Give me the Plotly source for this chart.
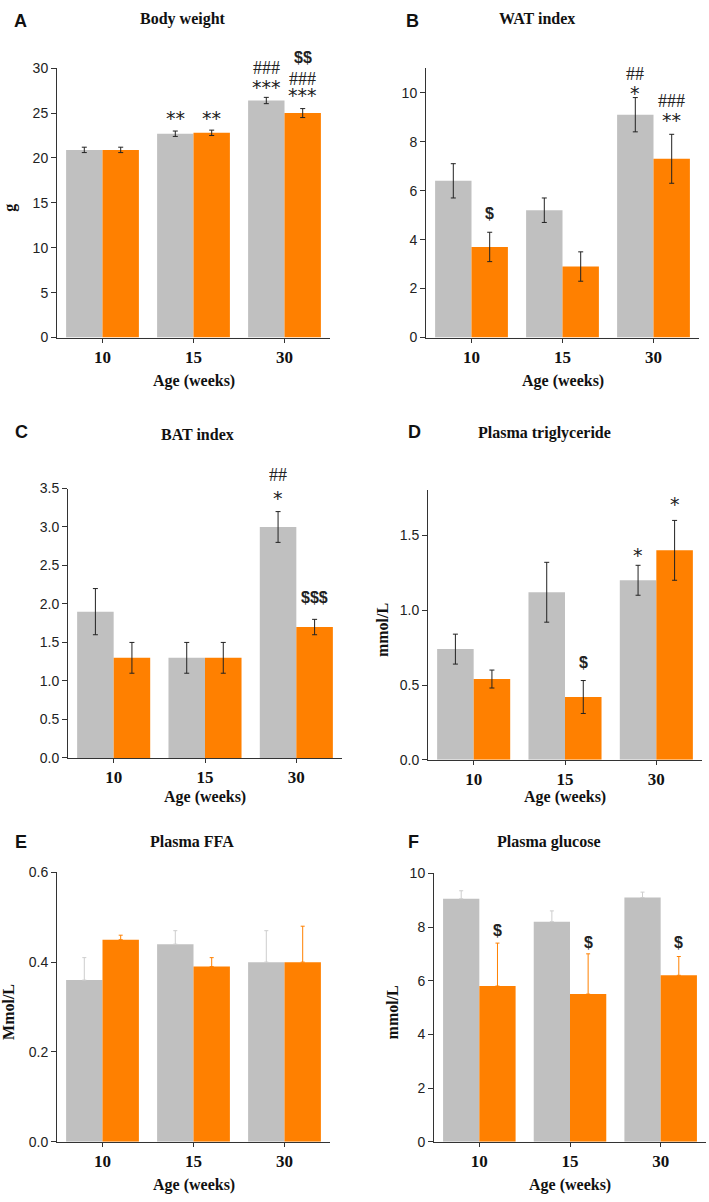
import plotly.graph_objects as go

W, H = 709, 1202
ages = ["10", "15", "30"]

# Panel A: Body weight (g)
bw_ctrl = [20.9, 22.7, 26.4]
bw_ctrl_err = [0.3, 0.3, 0.35]
bw_trt = [20.9, 22.8, 25.0]
bw_trt_err = [0.3, 0.3, 0.5]
# Panel B: WAT index
wat_ctrl = [6.4, 5.2, 9.1]
wat_ctrl_err = [0.7, 0.5, 0.7]
wat_trt = [3.7, 2.9, 7.3]
wat_trt_err = [0.6, 0.6, 1.0]
# Panel C: BAT index
bat_ctrl = [1.9, 1.3, 3.0]
bat_ctrl_err = [0.3, 0.2, 0.2]
bat_trt = [1.3, 1.3, 1.7]
bat_trt_err = [0.2, 0.2, 0.1]
# Panel D: Plasma triglyceride
tg_ctrl = [0.74, 1.12, 1.2]
tg_ctrl_err = [0.1, 0.2, 0.1]
tg_trt = [0.54, 0.42, 1.4]
tg_trt_err = [0.06, 0.11, 0.2]
# Panel E: Plasma FFA
ffa_ctrl = [0.36, 0.44, 0.40]
ffa_ctrl_err = [0.05, 0.03, 0.07]
ffa_trt = [0.45, 0.39, 0.40]
ffa_trt_err = [0.01, 0.02, 0.08]
# Panel F: Plasma glucose
glu_ctrl = [9.05, 8.2, 9.1]
glu_ctrl_err = [0.3, 0.4, 0.2]
glu_trt = [5.8, 5.5, 6.2]
glu_trt_err = [1.6, 1.5, 0.7]

# significance marks: (age index, group 0=ctrl 1=trt, y value, text, style)
marks_A = [(1, 0, 24.8, "**", "star"), (1, 1, 24.8, "**", "star"),
           (2, 0, 28.2, "***", "star"), (2, 0, 30.0, "###", "hash"),
           (2, 1, 27.3, "***", "star"), (2, 1, 28.8, "###", "hash"),
           (2, 1, 31.2, "$$", "dollar")]
marks_B = [(0, 1, 5.06, "$", "dollar"),
           (2, 0, 10.1, "*", "star"), (2, 0, 10.75, "##", "hash"),
           (2, 1, 9.0, "**", "star"), (2, 1, 9.65, "###", "hash")]
marks_C = [(2, 0, 3.42, "*", "star"), (2, 0, 3.68, "##", "hash"),
           (2, 1, 2.09, "$$$", "dollar")]
marks_D = [(1, 1, 0.65, "$", "dollar"), (2, 0, 1.39, "*", "star"),
           (2, 1, 1.73, "*", "star")]
marks_E = []
marks_F = [(0, 1, 7.87, "$", "dollar"), (1, 1, 7.43, "$", "dollar"),
           (2, 1, 7.43, "$", "dollar")]

GRAY = "#C0C0C0"
ORANGE = "#FF8000"
SERIF = "Liberation Serif"
SANS = "Liberation Sans"

# layout boxes in page pixels: (x0, x1, ytop, ybottom)
panels = [
    dict(letter="A", title="Body weight", ylab="g", ctrl=bw_ctrl, ce=bw_ctrl_err, trt=bw_trt, te=bw_trt_err,
         yr=[0, 30], dt=5, fmt="", box=(57, 330, 61, 334), marks=marks_A, up=False,
         lx=12, ly=13, tx=183, ty=11, ylx=10, agey=378),
    dict(letter="B", title="WAT index", ylab="", ctrl=wat_ctrl, ce=wat_ctrl_err, trt=wat_trt, te=wat_trt_err,
         yr=[0, 11], dt=2, fmt="", box=(426, 699, 61, 334), marks=marks_B, up=False,
         lx=404, ly=13, tx=537, ty=11, ylx=None, agey=378),
    dict(letter="C", title="BAT index", ylab="", ctrl=bat_ctrl, ce=bat_ctrl_err, trt=bat_trt, te=bat_trt_err,
         yr=[0, 3.5], dt=0.5, fmt=".1f", box=(68, 342, 487, 760), marks=marks_C, up=False,
         lx=13, ly=430, tx=197, ty=432, ylx=None, agey=800),
    dict(letter="D", title="Plasma triglyceride", ylab="mmol/L", ctrl=tg_ctrl, ce=tg_ctrl_err, trt=tg_trt, te=tg_trt_err,
         yr=[0, 1.8], dt=0.5, fmt=".1f", box=(428, 702, 489, 762), marks=marks_D, up=False,
         lx=406, ly=430, tx=544, ty=431, ylx=382, agey=800),
    dict(letter="E", title="Plasma FFA", ylab="Mmol/L", ctrl=ffa_ctrl, ce=ffa_ctrl_err, trt=ffa_trt, te=ffa_trt_err,
         yr=[0, 0.6], dt=0.2, fmt=".1f", box=(57, 330, 876, 1149), marks=marks_E, up=True,
         lx=13, ly=845, tx=192, ty=845, ylx=9, agey=1193),
    dict(letter="F", title="Plasma glucose", ylab="mmol/L", ctrl=glu_ctrl, ce=glu_ctrl_err, trt=glu_trt, te=glu_trt_err,
         yr=[0, 10], dt=2, fmt="", box=(434, 706, 877, 1149), marks=marks_F, up=True,
         lx=406, ly=845, tx=549, ty=845, ylx=392, agey=1193),
]

fig = go.Figure()
annotations = []
layout = {}


def px(x):
    return x / W


def py(y):
    return 1 - y / H


mark_style = {
    "star": (dict(family="DejaVu Sans", size=19, color="#222"), -3),
    "hash": (dict(family=SERIF, size=18, color="#222"), 0),
    "dollar": (dict(family=SANS, size=16, color="#222", weight="bold"), 0),
}

for i, p in enumerate(panels, start=1):
    xa = "x" if i == 1 else f"x{i}"
    ya = "y" if i == 1 else f"y{i}"
    x0, x1, yt, yb = p["box"]
    for vals, errs, color, ecolor in [(p["ctrl"], p["ce"], GRAY, "#222" if not p["up"] else "#CDCDCD"),
                                      (p["trt"], p["te"], ORANGE, "#222" if not p["up"] else ORANGE)]:
        if p["up"]:
            err = dict(type="data", array=errs, arrayminus=[0] * len(errs), symmetric=False,
                       color=ecolor, thickness=1, width=2)
        else:
            err = dict(type="data", array=errs, color=ecolor, thickness=1, width=2.5)
        fig.add_trace(go.Bar(x=ages, y=vals, marker=dict(color=color, line=dict(width=0)),
                             error_y=err, xaxis=xa, yaxis=ya, showlegend=False, hoverinfo="skip"))
    layout["xaxis" if i == 1 else f"xaxis{i}"] = dict(
        domain=[px(x0), px(x1)], anchor=ya, type="category", range=[-0.5, 2.5],
        showline=True, linecolor="#333", linewidth=1, ticks="outside", ticklen=4,
        tickcolor="#333", tickfont=dict(family=SERIF, size=17, color="#111", weight="bold"),
        showgrid=False, zeroline=False, fixedrange=True)
    layout["yaxis" if i == 1 else f"yaxis{i}"] = dict(
        domain=[py(yb), py(yt)], anchor=xa, range=p["yr"], dtick=p["dt"], tick0=0,
        tickformat=p["fmt"], showline=True, linecolor="#333", linewidth=1,
        ticks="outside", ticklen=5, tickcolor="#333",
        tickfont=dict(family=SANS, size=14, color="#222"),
        showgrid=False, zeroline=False, fixedrange=True)
    annotations.append(dict(text=p["letter"], x=px(p["lx"]), y=py(p["ly"]), xref="paper", yref="paper",
                            xanchor="left", yanchor="middle", showarrow=False,
                            font=dict(family=SANS, size=18, color="#111", weight="bold")))
    annotations.append(dict(text=p["title"], x=px(p["tx"]), y=py(p["ty"]), xref="paper", yref="paper",
                            xanchor="center", yanchor="middle", showarrow=False,
                            font=dict(family=SERIF, size=16, color="#111", weight="bold")))
    annotations.append(dict(text="Age (weeks)", x=px((x0 + x1) / 2), y=py(p["agey"]), xref="paper",
                            yref="paper", xanchor="center", yanchor="middle", showarrow=False,
                            font=dict(family=SERIF, size=16, color="#111", weight="bold")))
    if p["ylab"]:
        annotations.append(dict(text=p["ylab"], x=px(p["ylx"]), y=py((yt + yb) / 2 + 5), xref="paper",
                                yref="paper", xanchor="center", yanchor="middle", showarrow=False, textangle=-90,
                                font=dict(family=SERIF, size=16, color="#111", weight="bold")))
    ymax = p["yr"][1]
    for (ai, grp, yv, txt, style) in p["marks"]:
        font, ys = mark_style[style]
        annotations.append(dict(text=txt, x=ai + (-0.2 if grp == 0 else 0.2), y=yv / ymax,
                                xref=xa, yref=f"{ya} domain", xanchor="center", yanchor="middle",
                                yshift=ys, showarrow=False, font=font))

fig.update_layout(
    width=W, height=H, margin=dict(l=0, r=0, t=0, b=0),
    paper_bgcolor="white", plot_bgcolor="white",
    barmode="group", bargap=0.2, bargroupgap=0,
    annotations=annotations, **layout)

fig.write_html("out.html", config={"displayModeBar": False, "staticPlot": True},
               post_script="document.documentElement.style.margin='0';document.body.style.margin='0';"
                           "document.body.style.padding='0';document.body.style.overflow='hidden';")
